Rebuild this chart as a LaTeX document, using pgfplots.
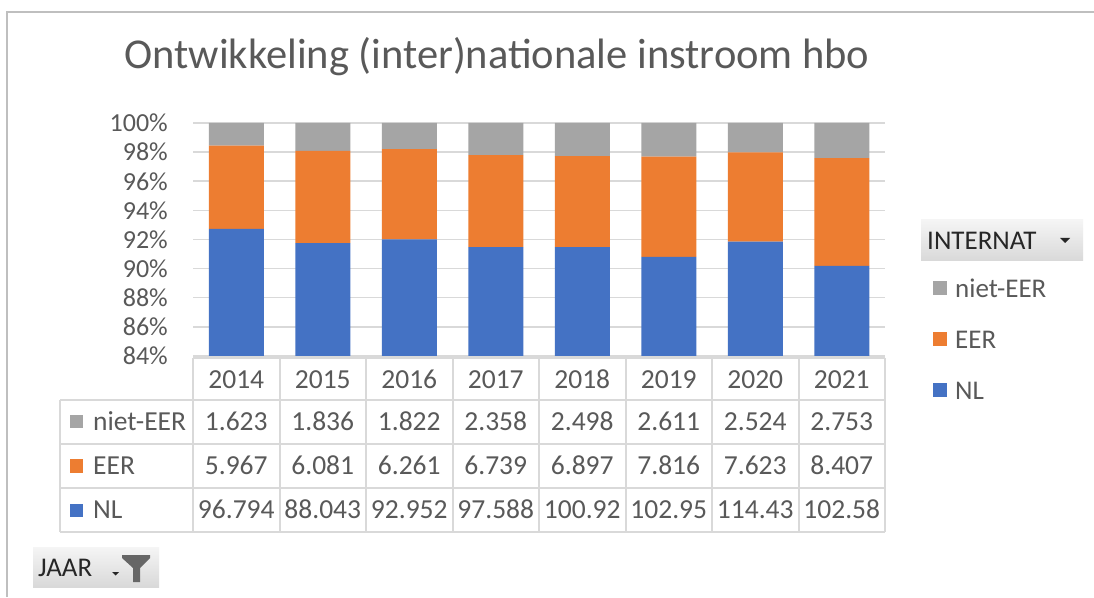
\documentclass[border=0pt]{standalone}
\usepackage{pgfplots}
\pgfplotsset{compat=1.18}
\usepackage{fontspec}
\setmainfont{Carlito}
\definecolor{cNL}{HTML}{4472C4}
\definecolor{cEER}{HTML}{ED7D31}
\definecolor{cNiet}{HTML}{A5A5A5}
\definecolor{txt}{HTML}{595959}
\definecolor{gridc}{HTML}{D9D9D9}
\definecolor{frame}{HTML}{BFBFBF}
\definecolor{dark}{HTML}{262626}
\begin{document}
\begin{tikzpicture}[x=1pt,y=1pt]
\path[use as bounding box] (0,0) rectangle (1094,597);
\fill[white] (0,0) rectangle (1094,597);
\draw[frame, line width=1.5pt] (7,0) -- (7,585) -- (1094,585);
% title
\node[text=txt, font=\fontsize{42.5}{46}\selectfont, inner sep=0pt] at (497,540) {Ontwikkeling (inter)nationale instroom hbo};

\begin{axis}[at={(193pt,241pt)}, anchor=south west, scale only axis,
  width=692pt, height=233pt,
  ybar stacked, bar width=55pt,
  xmin=-0.5, xmax=7.5, ymin=84, ymax=100,
  ytick={84,86,...,100}, xtick=\empty,
  axis line style={draw=none},
  ymajorgrids, grid style={gridc, line width=1.5pt},
  major tick length=0pt,
  /pgf/number format/assume math mode=true,
  yticklabel={\pgfmathprintnumber{\tick}\%},
  yticklabel style={font=\fontsize{26}{30}\selectfont, text=txt, inner sep=0pt, xshift=-25pt},
  clip=true]
\addplot[fill=cNL, draw=none] coordinates {(0,92.73) (1,91.75) (2,92.00) (3,91.47) (4,91.48) (5,90.80) (6,91.86) (7,90.19)};
\addplot[fill=cEER, draw=none] coordinates {(0,5.72) (1,6.34) (2,6.20) (3,6.32) (4,6.25) (5,6.89) (6,6.12) (7,7.39)};
\addplot[fill=cNiet, draw=none] coordinates {(0,1.55) (1,1.91) (2,1.80) (3,2.21) (4,2.27) (5,2.31) (6,2.02) (7,2.42)};
\end{axis}

% data table
\begin{scope}[gridc, line width=2pt]
\draw (193,239) -- (885,239);
\draw (60,197) -- (885,197);
\draw (60,153) -- (885,153);
\draw (60,109) -- (885,109);
\draw (60,65) -- (885,65);
\draw (60,197) -- (60,65);
\foreach \k in {0,...,8} { \draw ({193+86.5*\k},239) -- ({193+86.5*\k},65); }
\end{scope}

\begin{scope}[font=\fontsize{27.5}{30}\selectfont, text=txt]
\foreach \y [count=\i from 0] in {2014,2015,2016,2017,2018,2019,2020,2021}
  { \node[anchor=base, inner sep=0pt] at ({193+86.5*(\i+0.5)},208.5) {\y}; }
\foreach \v [count=\i from 0] in {1.623,1.836,1.822,2.358,2.498,2.611,2.524,2.753}
  { \node[anchor=base, inner sep=0pt] at ({193+86.5*(\i+0.5)},166.5) {\v}; }
\foreach \v [count=\i from 0] in {5.967,6.081,6.261,6.739,6.897,7.816,7.623,8.407}
  { \node[anchor=base, inner sep=0pt] at ({193+86.5*(\i+0.5)},123) {\v}; }
\foreach \v [count=\i from 0] in {96.794,88.043,92.952,97.588,100.92,102.95,114.43,102.58}
  { \node[anchor=base, inner sep=0pt] at ({193+86.5*(\i+0.5)},79) {\v}; }
\fill[cNiet] (70,168.5) rectangle (83,181.5);
\fill[cEER] (70,124.5) rectangle (83,137.5);
\fill[cNL] (70,80.5) rectangle (83,93.5);
\node[anchor=base west, inner sep=0pt] at (93,166.5) {niet-EER};
\node[anchor=base west, inner sep=0pt] at (93,123) {EER};
\node[anchor=base west, inner sep=0pt] at (93,79) {NL};
\end{scope}

% right legend
\shade[top color=gray!8, bottom color=gray!30] (921,336) rectangle (1083,377);
\node[anchor=base west, inner sep=0pt, text=dark, font=\fontsize{27}{30}\selectfont] at (927,347.5) {INTERNAT};
\fill[dark] (1060,359) -- (1070,359) -- (1065,354) -- cycle;
\begin{scope}[font=\fontsize{27}{30}\selectfont, text=txt]
\fill[cNiet] (933,301.5) rectangle (947,315.5);
\fill[cEER] (933,250.5) rectangle (947,264.5);
\fill[cNL] (933,199.5) rectangle (947,213.5);
\node[anchor=base west, inner sep=0pt] at (955,299.5) {niet-EER};
\node[anchor=base west, inner sep=0pt] at (955,248.5) {EER};
\node[anchor=base west, inner sep=0pt] at (955,197.5) {NL};
\end{scope}

% JAAR button
\shade[top color=gray!8, bottom color=gray!30] (33,10) rectangle (159,50);
\node[anchor=base west, inner sep=0pt, text=dark, font=\fontsize{27}{30}\selectfont] at (38,21) {JAAR};
\fill[dark] (112,25) -- (119,25) -- (115.5,21.5) -- cycle;
\fill[gray!80!black] (122,42) -- (150,42) -- (150,39) -- (140,29) -- (140,15) -- (133,15) -- (133,29) -- (122,39) -- cycle;
\end{tikzpicture}
\end{document}
